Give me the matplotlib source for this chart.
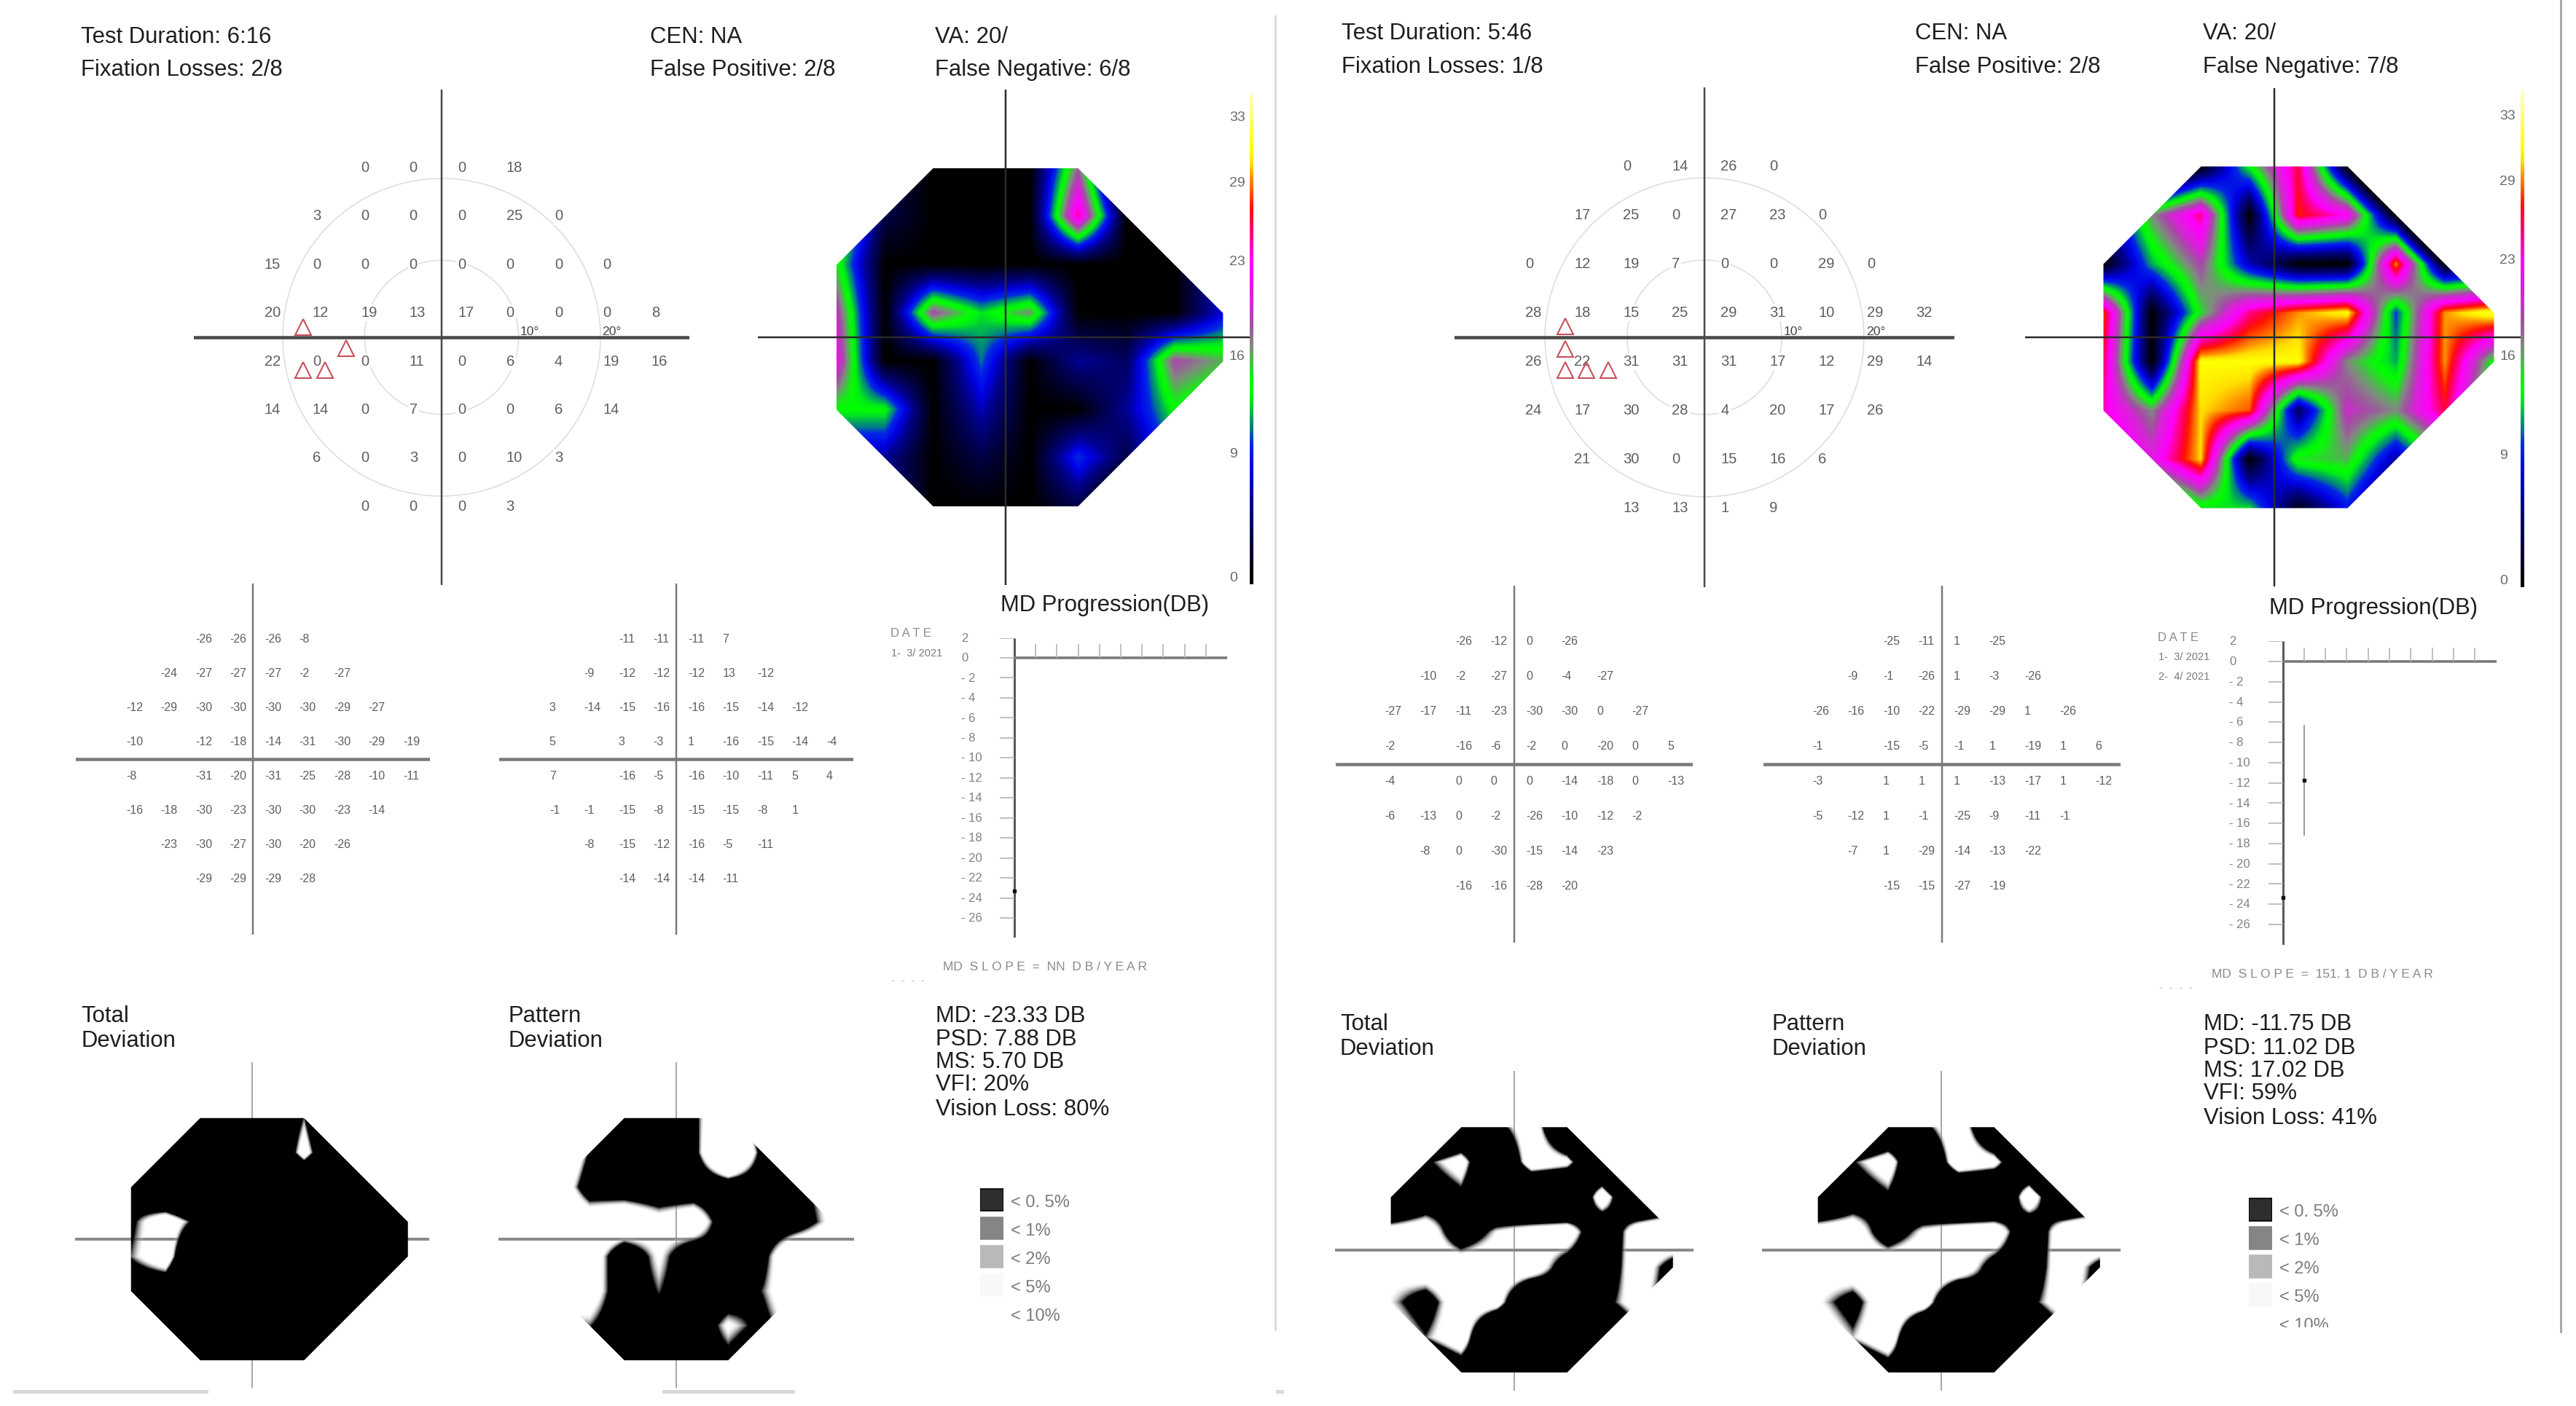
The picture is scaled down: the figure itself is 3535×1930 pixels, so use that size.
#Two visual field reports side by side (sensitivity, heat map, deviations, MD progression)

import numpy as np
import matplotlib
matplotlib.use("Agg")
import matplotlib.pyplot as plt
from matplotlib.colors import LinearSegmentedColormap, Normalize
from matplotlib.patches import Polygon, Rectangle

plt.rcParams['font.family'] = ['Liberation Sans', 'DejaVu Sans']

W, H = 3535, 1930
_ = None

# columns of the test grid, in degrees
GRID_X = [-21, -15, -9, -3, 3, 9, 15, 21, 27]
GRID_Y = [21, 15, 9, 3, -3, -9, -15, -21]
BLIND_SPOT = [(3, 1), (4, 1)]

SENS_L = [
    [_, _, 0, 0, 0, 18, _, _, _],
    [_, 3, 0, 0, 0, 25, 0, _, _],
    [15, 0, 0, 0, 0, 0, 0, 0, _],
    [20, 12, 19, 13, 17, 0, 0, 0, 8],
    [22, 0, 0, 11, 0, 6, 4, 19, 16],
    [14, 14, 0, 7, 0, 0, 6, 14, _],
    [_, 6, 0, 3, 0, 10, 3, _, _],
    [_, _, 0, 0, 0, 3, _, _, _],
]
SENS_R = [
    [_, _, 0, 14, 26, 0, _, _, _],
    [_, 17, 25, 0, 27, 23, 0, _, _],
    [0, 12, 19, 7, 0, 0, 29, 0, _],
    [28, 18, 15, 25, 29, 31, 10, 29, 32],
    [26, 22, 31, 31, 31, 17, 12, 29, 14],
    [24, 17, 30, 28, 4, 20, 17, 26, _],
    [_, 21, 30, 0, 15, 16, 6, _, _],
    [_, _, 13, 13, 1, 9, _, _, _],
]
TOTAL_L = [
    [_, _, -26, -26, -26, -8, _, _, _],
    [_, -24, -27, -27, -27, -2, -27, _, _],
    [-12, -29, -30, -30, -30, -30, -29, -27, _],
    [-10, _, -12, -18, -14, -31, -30, -29, -19],
    [-8, _, -31, -20, -31, -25, -28, -10, -11],
    [-16, -18, -30, -23, -30, -30, -23, -14, _],
    [_, -23, -30, -27, -30, -20, -26, _, _],
    [_, _, -29, -29, -29, -28, _, _, _],
]
PATTERN_L = [
    [_, _, -11, -11, -11, 7, _, _, _],
    [_, -9, -12, -12, -12, 13, -12, _, _],
    [3, -14, -15, -16, -16, -15, -14, -12, _],
    [5, _, 3, -3, 1, -16, -15, -14, -4],
    [7, _, -16, -5, -16, -10, -11, 5, 4],
    [-1, -1, -15, -8, -15, -15, -8, 1, _],
    [_, -8, -15, -12, -16, -5, -11, _, _],
    [_, _, -14, -14, -14, -11, _, _, _],
]
TOTAL_R = [
    [_, _, -26, -12, 0, -26, _, _, _],
    [_, -10, -2, -27, 0, -4, -27, _, _],
    [-27, -17, -11, -23, -30, -30, 0, -27, _],
    [-2, _, -16, -6, -2, 0, -20, 0, 5],
    [-4, _, 0, 0, 0, -14, -18, 0, -13],
    [-6, -13, 0, -2, -26, -10, -12, -2, _],
    [_, -8, 0, -30, -15, -14, -23, _, _],
    [_, _, -16, -16, -28, -20, _, _, _],
]
PATTERN_R = [
    [_, _, -25, -11, 1, -25, _, _, _],
    [_, -9, -1, -26, 1, -3, -26, _, _],
    [-26, -16, -10, -22, -29, -29, 1, -26, _],
    [-1, _, -15, -5, -1, 1, -19, 1, 6],
    [-3, _, 1, 1, 1, -13, -17, 1, -12],
    [-5, -12, 1, -1, -25, -9, -11, -1, _],
    [_, -7, 1, -29, -14, -13, -22, _, _],
    [_, _, -15, -15, -27, -19, _, _, _],
]

TRI_X_L = [-17.2, -11.8, -17.2, -14.5]
TRI_Y_L = [1.3, -1.4, -4.1, -4.1]
TRI_X_R = [-17.1, -17.1, -17.1, -14.5, -11.8]
TRI_Y_R = [1.3, -1.4, -4.0, -4.0, -4.0]

HEAT_STOPS = [0, 2, 4, 6, 8, 10, 11, 12, 13, 14, 15, 16, 17, 18, 19, 20, 23, 25, 26, 27, 28, 29, 30, 31, 33, 36]
HEAT_COLORS = ['#000000', '#000030', '#000060', '#000096', '#0000e6', '#0028e6', '#00788c', '#00aa5a',
               '#00e61e', '#00ff00', '#1ee61e', '#50b450', '#808c80', '#966496', '#aa46aa', '#d228d2',
               '#ff00ff', '#ff0082', '#ff0046', '#ff1400', '#ff5000', '#ff9000', '#ffe000', '#ffff00',
               '#ffff60', '#ffffff']
CBAR_TICKS = ['33', '29', '23', '16', '9', '0']
CBAR_Y_L = [162, 251, 360, 489, 624, 794]
CBAR_Y_R = [159, 249, 358, 489, 625, 797]

MD_YTICKS = [2, 0, -2, -4, -6, -8, -10, -12, -14, -16, -18, -20, -22, -24, -26]
MD_XTICKS = [1, 2, 3, 4, 5, 6, 7, 8, 9]
MD_X_L = [0]
MD_VAL_L = [-23.33]
MD_X_R = [0, 1]
MD_VAL_R = [-23.33, -11.75]
MD_BAR_X = 1
MD_BAR_LOW = -17.2
MD_BAR_HIGH = -6.25

LEGEND_LABELS = ['< 0. 5%', '< 1%', '< 2%', '< 5%', '< 10%']
LEGEND_COLORS = ['#2e2e2e', '#858585', '#b9b9b9', '#f8f8f8', '#ffffff']
LEGEND_EDGES = ['#000000', '#858585', '#b9b9b9', '#f8f8f8', '#ffffff']

heat_cmap = LinearSegmentedColormap.from_list('field', [(s / 36, c) for s, c in zip(HEAT_STOPS, HEAT_COLORS)])
heat_norm = Normalize(0, 36)
# black under about -7 dB, see-through above so that the cross only shows outside of the black
prob_cmap = LinearSegmentedColormap.from_list('prob', [(0, 0, 0, 1), (1, 1, 1, 0)])
prob_norm = Normalize(-8.5, -5.5)

fig = plt.figure(figsize=(W / 100, H / 100), dpi=100, facecolor='white')


def px_axes(x0, y0, x1, y1):
    ax = fig.add_axes([x0 / W, 1 - y1 / H, (x1 - x0) / W, (y1 - y0) / H])
    ax.axis('off')
    return ax


def ftext(x, y, s, size=22.4, color='#1e1e1e'):
    fig.text(x / W, 1 - y / H, s, fontsize=size, color=color, va='center', ha='left')


def frect(x0, y0, x1, y1, color, zorder=1):
    fig.add_artist(Rectangle((x0 / W, 1 - y1 / H), (x1 - x0) / W, (y1 - y0) / H,
                             transform=fig.transFigure, fc=color, ec='none', zorder=zorder))


# axes in degrees, origin on the cross
def field_axes(cx, cy, dx, dy, left, up, down=None):
    if down is None:
        down = up
    ax = px_axes(cx - left, cy - up, cx + left, cy + down)
    ax.set_xlim(-left / dx * 6, left / dx * 6)
    ax.set_ylim(-down / dy * 6, up / dy * 6)
    return ax


def cross(ax, vw, hw, color, zorder=3):
    ax.axvline(0, color=color, lw=vw * 0.72, zorder=zorder)
    ax.axhline(0, color=color, lw=hw * 0.72, zorder=zorder)


def numbers(ax, table, size, white=False):
    for r, row in enumerate(table):
        for c, v in enumerate(row):
            if v is None:
                continue
            box = dict(fc='white', ec='none', pad=1.5) if white else None
            ax.text(GRID_X[c] - 1.0, GRID_Y[r], str(v), fontsize=size, color='#5e5e5e',
                    ha='left', va='center', bbox=box, zorder=2)


# outline of the tested points, used to clip the maps
def outline(table):
    first = []
    last = []
    for r, row in enumerate(table):
        idx = [c for c, v in enumerate(row) if v is not None or (r, c) in BLIND_SPOT]
        first.append((GRID_X[idx[0]], GRID_Y[r]))
        last.append((GRID_X[idx[-1]], GRID_Y[r]))
    return first + last[::-1]


# cells cut by the outline get a 4th corner on the plane of the other 3
def fill_grid(table):
    a = np.array([[np.nan if v is None else float(v) for v in row] for row in table])
    for r, c in BLIND_SPOT:
        a[r, c] = 0
    b = a.copy()
    for r in range(a.shape[0]):
        for c in range(a.shape[1]):
            if not np.isnan(a[r, c]):
                continue
            for rr, cc in [(r - 1, c - 1), (r - 1, c + 1), (r + 1, c - 1), (r + 1, c + 1)]:
                if 0 <= rr < a.shape[0] and 0 <= cc < a.shape[1]:
                    if not np.isnan(a[rr, cc] + a[rr, c] + a[r, cc]):
                        b[r, c] = a[rr, c] + a[r, cc] - a[rr, cc]
                        break
    return np.nan_to_num(b)


def draw_map(ax, table, cmap, norm, zorder):
    im = ax.imshow(fill_grid(table), cmap=cmap, norm=norm, interpolation='bilinear',
                   interpolation_stage='data', aspect='auto', zorder=zorder,
                   extent=(GRID_X[0] - 3, GRID_X[-1] + 3, GRID_Y[-1] - 3, GRID_Y[0] + 3))
    clip = Polygon(outline(table), closed=True, transform=ax.transData, fc='none', ec='none')
    ax.add_patch(clip)
    im.set_clip_path(clip)
    return im


def sens_panel(table, cx, cy, dx, half, tri_x, tri_y, r20, r10):
    ax = field_axes(cx, cy, dx, dx, half, half)
    t = np.linspace(0, 2 * np.pi, 361)
    for rad in (r20, r10):
        ax.plot(rad * np.cos(t), rad * np.sin(t), color='#dcdcdc', lw=1.1, zorder=1)
    numbers(ax, table, 14.5, white=True)
    cross(ax, 2.5, 4.5, '#4a4a4a')
    ax.text(9.76, 0.7, '10°', fontsize=12.6, color='#444444', ha='left', va='center', zorder=4)
    ax.text(19.9, 0.7, '20°', fontsize=12.6, color='#444444', ha='left', va='center', zorder=4)
    ax.plot(tri_x, tri_y, ls='none', marker='^', ms=16, mfc='none', mec='#c8505a', mew=1.5, zorder=5)


def heat_panel(table, cx, cy, dx, half, bar_x, bar_top, bar_bottom, label_x, label_y):
    ax = field_axes(cx, cy, dx, dx, half, half)
    draw_map(ax, table, heat_cmap, heat_norm, 2)
    cross(ax, 2.5, 2.5, '#2a2a2a')
    ax.set_xlim(-half / dx * 6, half / dx * 6)
    ax.set_ylim(-half / dx * 6, half / dx * 6)
    bar = px_axes(bar_x, bar_top, bar_x + 5, bar_bottom)
    bar.imshow(np.linspace(35, 0, 500)[:, None], cmap=heat_cmap, norm=heat_norm, aspect='auto')
    for s, y in zip(CBAR_TICKS, label_y):
        ftext(label_x, y, s, 14, '#6a6a6a')


def number_panel(table, cx, cy, dx, left, up):
    ax = field_axes(cx, cy, dx, dx * 0.99, left, up)
    numbers(ax, table, 11.5)
    cross(ax, 2.5, 4.5, '#7a7a7a')


def prob_panel(table, cx, cy, dx, dy, left, up, down):
    ax = field_axes(cx, cy, dx, dy, left, up, down)
    cross(ax, 1.5, 4, '#8a8a8a', zorder=1)
    draw_map(ax, table, prob_cmap, prob_norm, 2)
    ax.set_xlim(-left / dx * 6, left / dx * 6)
    ax.set_ylim(-down / dy * 6, up / dy * 6)


def md_panel(x0, y0, dx, dy, xs, vals, label_x):
    # x0, y0: pixel of the origin, dx pixels per test, dy pixels per dB
    ax = px_axes(x0 - 20, y0 - 2 * dy, x0 + 10 * dx, y0 + 28 * dy)
    ax.set_xlim(-20 / dx, 10)
    ax.set_ylim(-28, 2)
    ax.vlines(0, -28, 2, color='#5a5a5a', lw=2.2)
    ax.hlines(0, 0, 10, color='#7a7a7a', lw=2.6)
    ax.hlines(MD_YTICKS, -20 / dx, 0, color='#b5b5b5', lw=1.2)
    ax.vlines(MD_XTICKS, 0, 19 / dy, color='#b5b5b5', lw=1.2)
    for v in MD_YTICKS:
        ax.text((label_x - x0) / dx, v - 0.05, str(v).replace('-', '- '), fontsize=12, color='#808080',
                ha='left', va='center', clip_on=False)
    ax.plot(xs, vals, ls='none', marker='s', ms=2.5, color='#111111', clip_on=False, zorder=5)
    return ax


def legend_panel(x0, x1, top, rows):
    ax = px_axes(x0, top, x1, top + 39 * rows)
    ax.set_xlim(0, 1)
    ax.set_ylim(rows - 0.5, -0.5)
    ax.barh(range(rows), [1] * rows, height=0.78, left=0, color=LEGEND_COLORS, edgecolor=LEGEND_EDGES, lw=1.2)
    for i, s in enumerate(LEGEND_LABELS):
        ax.text(1.3, i + 0.1, s, fontsize=17, color='#7c7c7c', ha='left', va='center', clip_on=False)


# ---- left report ----
ftext(111, 51, 'Test Duration: 6:16')
ftext(111, 96, 'Fixation Losses: 2/8')
ftext(892, 51, 'CEN: NA')
ftext(892, 96, 'False Positive: 2/8')
ftext(1283, 51, 'VA: 20/')
ftext(1283, 96, 'False Negative: 6/8')

sens_panel(SENS_L, 606, 463, 66.4, 340, TRI_X_L, TRI_Y_L, 19.7, 9.55)
heat_panel([[0 if (r, c) == (4, 1) else v for c, v in enumerate(row)] for r, row in enumerate(SENS_L)],
           1380, 463, 66.3, 340, 1715, 128, 802, 1687, CBAR_Y_L)

number_panel(TOTAL_L, 347, 1042, 47.5, 243, 241)
number_panel(PATTERN_L, 928, 1042, 47.5, 243, 241)

ftext(1373, 831, 'MD Progression(DB)')
ftext(1222, 870, 'D A T E', 12, '#8a8a8a')
ftext(1223, 897, '1-  3/ 2021', 10.5, '#7a7a7a')
md_panel(1392, 903, 29.2, 13.73, MD_X_L, MD_VAL_L, 1319)
ftext(1294, 1328, 'MD  S L O P E  =  NN  D B / Y E A R', 12.5, '#8a8a8a')
ftext(1223, 1346, '-  -  -  -', 11, '#c0c0c0')

ftext(111, 1395, 'Total')
ftext(111, 1429, 'Deviation')
ftext(697, 1395, 'Pattern')
ftext(697, 1429, 'Deviation')
for y, s in zip([1395, 1427, 1458, 1489, 1523],
                ['MD: -23.33 DB', 'PSD: 7.88 DB', 'MS: 5.70 DB', 'VFI: 20%', 'Vision Loss: 80%']):
    ftext(1284, y, s)

prob_panel(TOTAL_L, 346, 1701, 47.5, 47.5, 243, 243, 204)
prob_panel(PATTERN_L, 928, 1701, 47.5, 47.5, 244, 243, 204)
legend_panel(1345, 1377, 1627.5, 5)

# ---- right report ----
ftext(1841, 46, 'Test Duration: 5:46')
ftext(1841, 92, 'Fixation Losses: 1/8')
ftext(2628, 46, 'CEN: NA')
ftext(2628, 92, 'False Positive: 2/8')
ftext(3023, 46, 'VA: 20/')
ftext(3023, 92, 'False Negative: 7/8')

sens_panel(SENS_R, 2339, 463, 67, 343, TRI_X_R, TRI_Y_R, 19.6, 9.5)
heat_panel([[0 if (r, c) == (4, 1) else v for c, v in enumerate(row)] for r, row in enumerate(SENS_R)],
           3121, 463, 67, 342, 3459, 123, 806, 3430, CBAR_Y_R)

number_panel(TOTAL_R, 2078, 1048.8, 48.5, 245, 245)
number_panel(PATTERN_R, 2665, 1048.8, 48.5, 245, 245)

ftext(3114, 835, 'MD Progression(DB)')
ftext(2961, 875, 'D A T E', 12, '#8a8a8a')
ftext(2962, 902, '1-  3/ 2021', 10.5, '#7a7a7a')
ftext(2962, 929, '2-  4/ 2021', 10.5, '#7a7a7a')
md_ax = md_panel(3132.5, 908, 29.3, 13.88, MD_X_R, MD_VAL_R, 3059)
md_ax.vlines(MD_BAR_X, MD_BAR_LOW, MD_BAR_HIGH, color='#9a9a9a', lw=1.4)
ftext(3035, 1338, 'MD  S L O P E  =  151. 1  D B / Y E A R', 12.5, '#8a8a8a')
ftext(2963, 1356, '-  -  -  -', 11, '#c0c0c0')

ftext(1839, 1406, 'Total')
ftext(1839, 1440, 'Deviation')
ftext(2432, 1406, 'Pattern')
ftext(2432, 1440, 'Deviation')
for y, s in zip([1406, 1439, 1470, 1501, 1535],
                ['MD: -11.75 DB', 'PSD: 11.02 DB', 'MS: 17.02 DB', 'VFI: 59%', 'Vision Loss: 41%']):
    ftext(3024, y, s)

prob_panel(TOTAL_R, 2078, 1715.6, 48.4, 48.1, 246, 246, 193)
prob_panel(PATTERN_R, 2664, 1715.6, 48.4, 48.1, 246, 246, 193)
legend_panel(3086, 3118, 1641, 5)
# the last legend row is cut in the report
frect(3070, 1822, 3300, 1840, 'white', zorder=10)

# page edges
frect(1749, 21, 1752, 1827, '#dcdcdc')
frect(3513, 0, 3516, 1830, '#a8a8a8')
frect(18, 1908, 286, 1913, '#d8d8d8')
frect(909, 1908, 1091, 1913, '#d8d8d8')
frect(1751, 1908, 1762, 1913, '#d8d8d8')

fig.savefig('out.png', dpi=100)
